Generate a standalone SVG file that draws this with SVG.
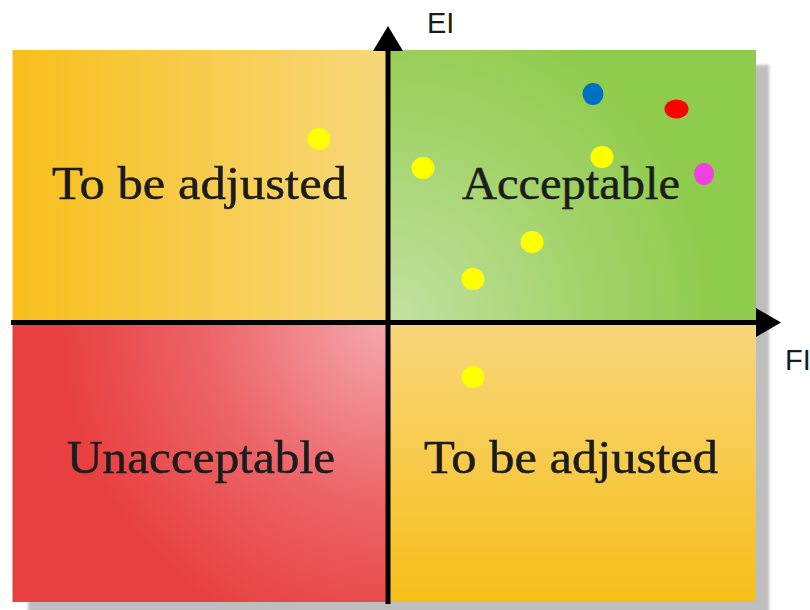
<svg xmlns="http://www.w3.org/2000/svg" width="810" height="610" viewBox="0 0 810 610">
<defs>
<linearGradient id="gTL" x1="0" y1="0" x2="1" y2="0">
<stop offset="0" stop-color="#F8BF1C"/>
<stop offset="1" stop-color="#F7D87C"/>
</linearGradient>
<linearGradient id="gBR" x1="0" y1="0" x2="0" y2="1">
<stop offset="0" stop-color="#F7D77C"/>
<stop offset="1" stop-color="#F7BE1A"/>
</linearGradient>
<radialGradient id="gTR" gradientUnits="userSpaceOnUse" cx="392" cy="322" r="330">
<stop offset="0" stop-color="#C3E1A2"/>
<stop offset="0.6" stop-color="#A2D36A"/>
<stop offset="1" stop-color="#8FCB4C"/>
</radialGradient>
<radialGradient id="gBL" gradientUnits="userSpaceOnUse" cx="388" cy="322" r="330">
<stop offset="0" stop-color="#F5A9AD"/>
<stop offset="0.55" stop-color="#EC6468"/>
<stop offset="1" stop-color="#E84040"/>
</radialGradient>
<filter id="blur" x="-5%" y="-5%" width="110%" height="110%">
<feGaussianBlur stdDeviation="1.5"/>
</filter>
</defs>
<style>
.lbl{font-family:"Liberation Serif","DejaVu Serif",serif;font-size:47px;fill:#1c1c1c;stroke:#1c1c1c;stroke-width:0.5;}
.ax{font-family:"Liberation Sans",Arial,sans-serif;font-size:29px;fill:#1a1a1a;}
.axis{stroke:#000;stroke-width:5;fill:none;}
.head{fill:#000;}
</style>
<rect x="28" y="65" width="741" height="550" fill="#BEBEBE" filter="url(#blur)"/>
<g id="q-top-left">
<rect x="12.5" y="50" width="375.5" height="272" fill="url(#gTL)"/>
<text class="lbl" x="52" y="199" textLength="295" lengthAdjust="spacingAndGlyphs">To be adjusted</text>
</g>
<g id="q-top-right">
<rect x="388" y="50" width="368" height="272" fill="url(#gTR)"/>
<text class="lbl" x="462" y="199" textLength="218" lengthAdjust="spacingAndGlyphs">Acceptable</text>
</g>
<g id="q-bottom-left">
<rect x="12.5" y="322" width="375.5" height="280" fill="url(#gBL)"/>
<text class="lbl" x="67" y="473" textLength="268" lengthAdjust="spacingAndGlyphs">Unacceptable</text>
</g>
<g id="q-bottom-right">
<rect x="388" y="322" width="368" height="280" fill="url(#gBR)"/>
<text class="lbl" x="424" y="473" textLength="294" lengthAdjust="spacingAndGlyphs">To be adjusted</text>
</g>
<g id="axes">
<line class="axis" x1="11" y1="322.5" x2="758" y2="322.5"/>
<polygon class="head" points="756,308 781,322.5 756,337"/>
<line class="axis" x1="388" y1="604" x2="388" y2="48"/>
<polygon class="head" points="373,51 388,26 403,51"/>
<text class="ax" x="427" y="33">EI</text>
<text class="ax" x="785" y="370">FI</text>
</g>
<g id="points">
<ellipse cx="319" cy="139" rx="11.5" ry="11" fill="#FFFF00"/>
<ellipse cx="423" cy="168" rx="11.5" ry="11" fill="#FFFF00"/>
<ellipse cx="602" cy="157" rx="11.5" ry="11" fill="#FFFF00"/>
<ellipse cx="532" cy="242" rx="11.5" ry="11" fill="#FFFF00"/>
<ellipse cx="473" cy="279" rx="11.5" ry="11" fill="#FFFF00"/>
<ellipse cx="473" cy="377" rx="11.5" ry="11" fill="#FFFF00"/>
<ellipse cx="593" cy="94" rx="10.5" ry="11" fill="#0070C0"/>
<ellipse cx="676.5" cy="109" rx="12" ry="9.5" fill="#FF0000"/>
<ellipse cx="704" cy="174" rx="10" ry="11" fill="#F040E0"/>
</g>
</svg>
